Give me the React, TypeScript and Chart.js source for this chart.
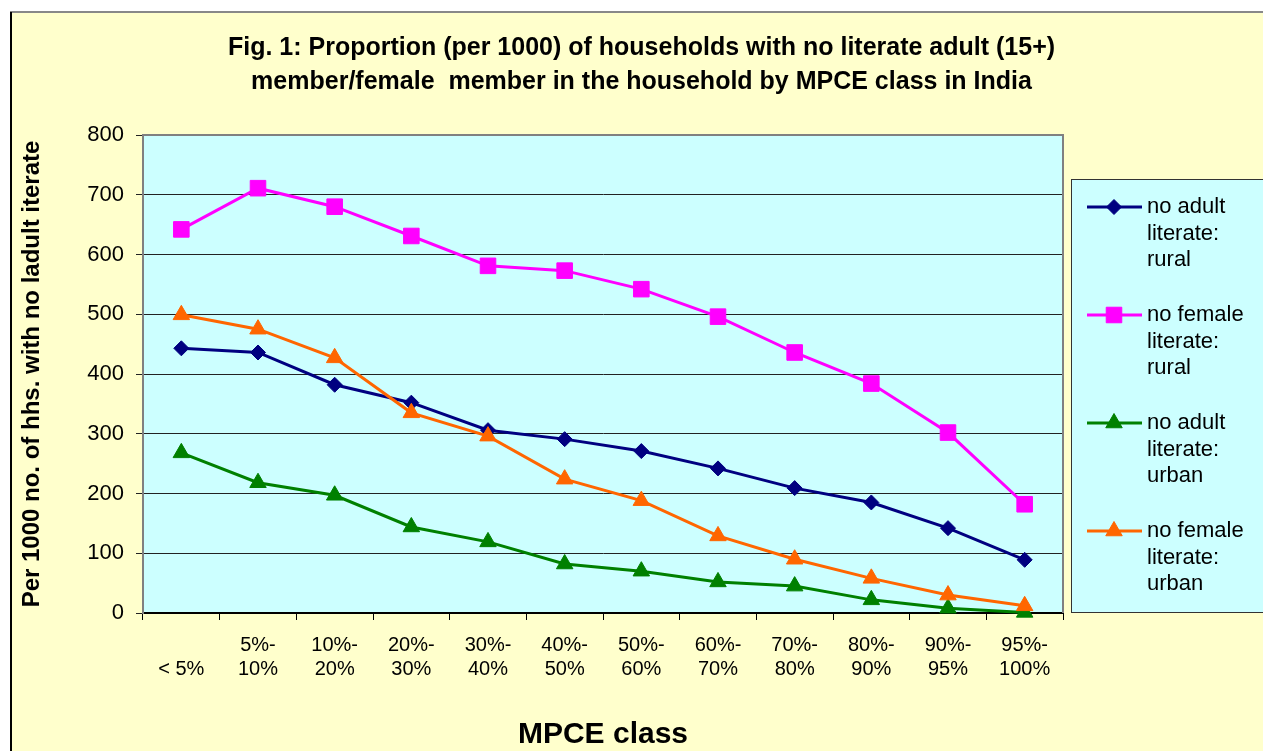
import React, { useEffect, useRef } from "react";
import { Chart, registerables } from "chart.js";
import { drawPoint } from "chart.js/helpers";

Chart.register(...registerables);

const FONT = "Arial, 'Liberation Sans', sans-serif";

const titleLines = [
  "Fig. 1: Proportion (per 1000) of households with no literate adult (15+)",
  "member/female  member in the household by MPCE class in India",
];
const xTitle = "MPCE class";
const yTitle = "Per 1000 no. of hhs. with no ladult iterate";

const categories: string[][] = [
  ["", "< 5%"],
  ["5%-", "10%"],
  ["10%-", "20%"],
  ["20%-", "30%"],
  ["30%-", "40%"],
  ["40%-", "50%"],
  ["50%-", "60%"],
  ["60%-", "70%"],
  ["70%-", "80%"],
  ["80%-", "90%"],
  ["90%-", "95%"],
  ["95%-", "100%"],
];

const noAdultRural = [443, 436, 382, 352, 306, 291, 271, 242, 209, 185, 142, 89];
const noFemaleRural = [642, 711, 680, 631, 581, 573, 542, 496, 436, 384, 302, 182];
const noAdultUrban = [268, 218, 197, 144, 119, 82, 70, 52, 45, 22, 8, 1];
const noFemaleUrban = [499, 475, 427, 335, 296, 224, 188, 129, 90, 58, 30, 12];

const seriesNames = [
  "no adult literate: rural",
  "no female literate: rural",
  "no adult literate: urban",
  "no female literate: urban",
];
const legendLines: string[][] = [
  ["no adult", "literate:", "rural"],
  ["no female", "literate:", "rural"],
  ["no adult", "literate:", "urban"],
  ["no female", "literate:", "urban"],
];

const yMin = 0;
const yMax = 800;
const yStep = 100;

const framePlugin = {
  id: "frameBg",
  beforeDraw(chart: any) {
    const ctx = chart.ctx;
    const { left, top, right, bottom } = chart.chartArea;
    ctx.save();
    ctx.fillStyle = "#FFFFCC";
    ctx.fillRect(10, 12, chart.width - 10, chart.height - 12);
    ctx.strokeStyle = "#888888";
    ctx.lineWidth = 2;
    ctx.beginPath();
    ctx.moveTo(10, 12);
    ctx.lineTo(chart.width, 12);
    ctx.stroke();
    ctx.strokeStyle = "#000000";
    ctx.beginPath();
    ctx.moveTo(11, 12);
    ctx.lineTo(11, chart.height);
    ctx.stroke();
    ctx.fillStyle = "#CCFFFF";
    ctx.fillRect(left, top, right - left, bottom - top);
    ctx.restore();
  },
  beforeDatasetsDraw(chart: any) {
    const ctx = chart.ctx;
    const { left, top, right, bottom } = chart.chartArea;
    ctx.save();
    ctx.strokeStyle = "#808080";
    ctx.lineWidth = 2;
    ctx.beginPath();
    ctx.moveTo(left, top);
    ctx.lineTo(right, top);
    ctx.lineTo(right, bottom);
    ctx.stroke();
    ctx.restore();
  },
  afterDraw(chart: any) {
    const ctx = chart.ctx;
    ctx.save();
    ctx.fillStyle = "#CCFFFF";
    ctx.fillRect(1071, 179, 210, 433);
    ctx.strokeStyle = "#333333";
    ctx.lineWidth = 1;
    ctx.strokeRect(1071.5, 179.5, 210, 433);
    chart.data.datasets.forEach((ds: any, i: number) => {
      const y = 207 + i * 108;
      ctx.strokeStyle = ds.borderColor;
      ctx.lineWidth = ds.borderWidth;
      ctx.beginPath();
      ctx.moveTo(1087, y);
      ctx.lineTo(1142, y);
      ctx.stroke();
      ctx.fillStyle = ds.pointBackgroundColor;
      ctx.strokeStyle = ds.pointBorderColor;
      ctx.lineWidth = 1;
      drawPoint(
        ctx,
        { pointStyle: ds.pointStyle, radius: ds.pointRadius, rotation: 0, borderWidth: 1 } as any,
        1114,
        y
      );
      ctx.fillStyle = "#000000";
      ctx.font = `22px ${FONT}`;
      ctx.textAlign = "left";
      ctx.textBaseline = "middle";
      legendLines[i].forEach((t, j) => ctx.fillText(t, 1147, y + j * 26.5));
    });
    ctx.restore();
  },
};

export default function App() {
  const ref = useRef<HTMLCanvasElement>(null);

  useEffect(() => {
    const mk = (label: string, data: number[], color: string, style: string, radius: number, order: number) => ({
      label,
      data,
      borderColor: color,
      backgroundColor: color,
      pointBackgroundColor: color,
      pointBorderColor: color,
      pointBorderWidth: 1,
      borderWidth: 3,
      pointStyle: style,
      pointRadius: radius,
      pointHoverRadius: radius,
      tension: 0,
      clip: false,
      order,
    });

    const chart = new Chart(ref.current as HTMLCanvasElement, {
      type: "line",
      data: {
        labels: categories,
        datasets: [
          mk(seriesNames[0], noAdultRural, "#000080", "rectRot", 7.5, 4),
          mk(seriesNames[1], noFemaleRural, "#FF00FF", "rect", 11, 3),
          mk(seriesNames[2], noAdultUrban, "#008000", "triangle", 9.5, 2),
          mk(seriesNames[3], noFemaleUrban, "#FF6600", "triangle", 9.5, 1),
        ] as any,
      },
      options: {
        responsive: false,
        animation: false,
        devicePixelRatio: 1,
        layout: { padding: { left: 20, top: 12, right: 0, bottom: 0 } },
        plugins: {
          legend: { display: false },
          tooltip: { enabled: false },
          title: {
            display: true,
            text: titleLines,
            color: "#000000",
            font: { family: FONT, size: 25, weight: "bold", lineHeight: 1.36 },
            padding: { top: 19, bottom: 36 },
          },
        },
        scales: {
          x: {
            type: "category",
            offset: true,
            grid: {
              offset: true,
              drawOnChartArea: false,
              drawTicks: true,
              tickLength: 7,
              color: "#000000",
              lineWidth: 1,
            },
            border: { display: true, color: "#000000", width: 2 },
            ticks: {
              color: "#000000",
              font: { family: FONT, size: 20, lineHeight: 1.2 },
              padding: 13,
              maxRotation: 0,
              minRotation: 0,
              autoSkip: false,
            },
            title: {
              display: true,
              text: xTitle,
              color: "#000000",
              font: { family: FONT, size: 30, weight: "bold", lineHeight: 1.2 },
              padding: { top: 0, bottom: -2 },
            },
            afterFit: (s: any) => {
              s.height = 138;
            },
          },
          y: {
            type: "linear",
            position: "left",
            min: yMin,
            max: yMax,
            ticks: {
              stepSize: yStep,
              color: "#000000",
              font: { family: FONT, size: 22 },
              padding: 12,
            },
            grid: { color: "#222222", lineWidth: 1, tickLength: 7, drawTicks: true },
            border: { display: true, color: "#808080", width: 2 },
            title: {
              display: true,
              text: yTitle,
              color: "#000000",
              font: { family: FONT, size: 24, weight: "bold", lineHeight: 1 },
              padding: { top: 0, bottom: 0 },
            },
            afterFit: (s: any) => {
              s.width = 123;
            },
          },
          yR: {
            type: "linear",
            position: "right",
            min: yMin,
            max: yMax,
            grid: { display: false, drawTicks: false },
            ticks: { display: false },
            border: { display: false },
            afterFit: (s: any) => {
              s.width = 200;
            },
          },
        },
      } as any,
      plugins: [framePlugin],
    });
    return () => chart.destroy();
  }, []);

  return (
    <div style={{ position: "absolute", left: 0, top: 0, width: 1263, height: 751 }}>
      <canvas ref={ref} width={1263} height={751} style={{ display: "block" }} />
    </div>
  );
}
